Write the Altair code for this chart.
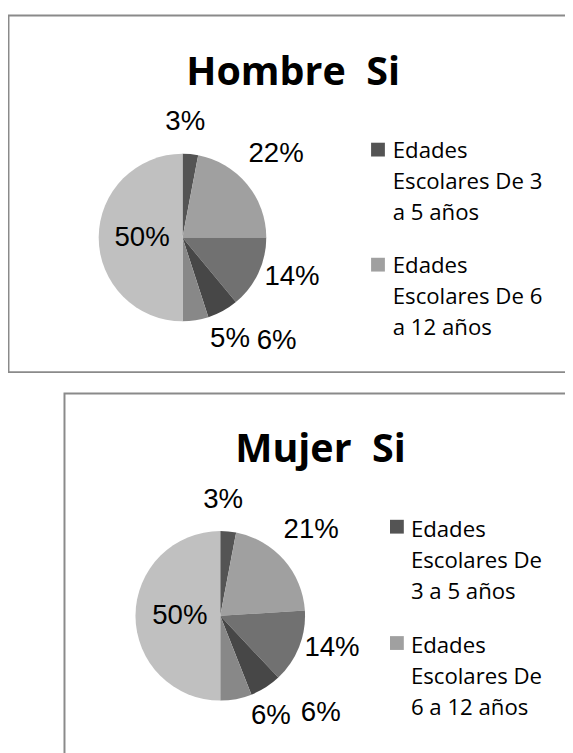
import altair as alt
import pandas as pd

# ---------------- data ----------------
categorias = [
    "Edades Escolares De 3 a 5 años",
    "Edades Escolares De 6 a 12 años",
    "Edades Escolares De 13 a 15 años",
    "Edades Escolares De 16 a 18 años",
    "Edades Escolares De 19 a 24 años",
    "Otras edades",
]
hombre_si = [3, 22, 14, 6, 5, 50]
mujer_si = [3, 21, 14, 6, 6, 50]
titulos = ["Hombre\u00a0\u00a0Si", "Mujer\u00a0\u00a0Si"]
leyenda_hombre = ["Edades\nEscolares De 3\na 5 años", "Edades\nEscolares De 6\na 12 años"]
leyenda_mujer = ["Edades\nEscolares De\n3 a 5 años", "Edades\nEscolares De\n6 a 12 años"]

# ---------------- styling / layout ----------------
grises = ["#545454", "#a0a0a0", "#717171", "#474747", "#888888", "#c0c0c0"]
label_r = [117, 127, 118, 142, 114, 41]            # label distance from centre (px)
label_shift = [-4, -2, -5.5, -13.5, -16, -1]       # best-fit angular nudge (deg)

W, H = 563, 745
BORDER = "#8a8a8a"

color = alt.Color("cat:N", scale=alt.Scale(domain=categorias, range=grises), legend=None)


def panel(values, titulo, leyenda, box, pie, title_pos, legend_pos):
    bx1, by1, bx2, by2 = box
    cx, cy, r = pie
    tx, ty = title_pos
    sx, sy, lx, ly, step = legend_pos

    df = pd.DataFrame({
        "cat": categorias,
        "valor": values,
        "orden": list(range(len(values))),
        "lr": label_r,
        "ls": label_shift,
    })

    borde = alt.Chart(pd.DataFrame({"t": [titulo]})).mark_rect(
        fillOpacity=0, stroke=BORDER, strokeWidth=2
    ).encode(x=alt.value(bx1), x2=alt.value(bx2), y=alt.value(by1), y2=alt.value(by2))

    titulo_layer = alt.Chart(pd.DataFrame({"t": [titulo]})).mark_text(
        font="Open Sans", fontWeight="bold", fontSize=40, align="center",
        baseline="alphabetic", color="#000000"
    ).encode(x=alt.value(tx), y=alt.value(ty), text="t:N")

    arcos = alt.Chart(df).mark_arc(radius=r).encode(
        theta=alt.Theta("valor:Q", stack=True),
        color=color,
        order=alt.Order("orden:Q"),
        x=alt.value(cx),
        y=alt.value(cy),
    )

    etiquetas = alt.Chart(df).transform_window(
        cum="sum(valor)", sort=[alt.SortField("orden")], frame=[None, 0]
    ).transform_joinaggregate(
        total="sum(valor)"
    ).transform_calculate(
        ang="(datum.cum - datum.valor / 2) / datum.total * 2 * PI + datum.ls * PI / 180",
        px=f"{cx} + datum.lr * sin(datum.ang)",
        py=f"{cy} - datum.lr * cos(datum.ang)",
        txt="datum.valor + '%'",
    ).mark_text(
        font="Liberation Sans", fontSize=28, align="center", baseline="middle", color="#000000"
    ).encode(
        x=alt.X("px:Q", scale=None),
        y=alt.Y("py:Q", scale=None),
        text="txt:N",
    )

    dleg = pd.DataFrame({"cat": categorias[:2], "etiqueta": leyenda, "i": [0, 1]})
    cuadros = alt.Chart(dleg).transform_calculate(
        yy=f"{sy} + datum.i * {step}"
    ).mark_square(size=196, filled=True, opacity=1).encode(
        x=alt.value(sx), y=alt.Y("yy:Q", scale=None), color=color
    )
    textos = alt.Chart(dleg).transform_calculate(
        yy=f"{ly} + datum.i * {step}"
    ).mark_text(
        font="Open Sans", fontSize=22.5, align="left", baseline="alphabetic",
        lineBreak="\n", lineHeight=31.5, color="#000000"
    ).encode(x=alt.value(lx), y=alt.Y("yy:Q", scale=None), text="etiqueta:N")

    return [borde, titulo_layer, arcos, etiquetas, cuadros, textos]


capas = []
capas += panel(
    hombre_si, titulos[0], leyenda_hombre,
    box=(-1.5, 2.2, 650, 364),
    pie=(175, 227.5, 85),
    title_pos=(287.2, 72.7),
    legend_pos=(373.3, 138.3, 388.3, 147, 116.7),
)
capas += panel(
    mujer_si, titulos[1], leyenda_mujer,
    box=(55.3, 385.7, 650, 820),
    pie=(213.3, 611.2, 86),
    title_pos=(315, 455.3),
    legend_pos=(392.5, 520.8, 406.7, 531.3, 118),
)

chart = alt.layer(*capas).properties(
    width=W,
    height=H,
    padding={"left": 2, "top": 0, "right": 0, "bottom": 0},
    autosize=alt.AutoSizeParams(type="none"),
).configure_view(stroke=None)

chart.save("out.html", embed_options={"renderer": "svg", "actions": False})
